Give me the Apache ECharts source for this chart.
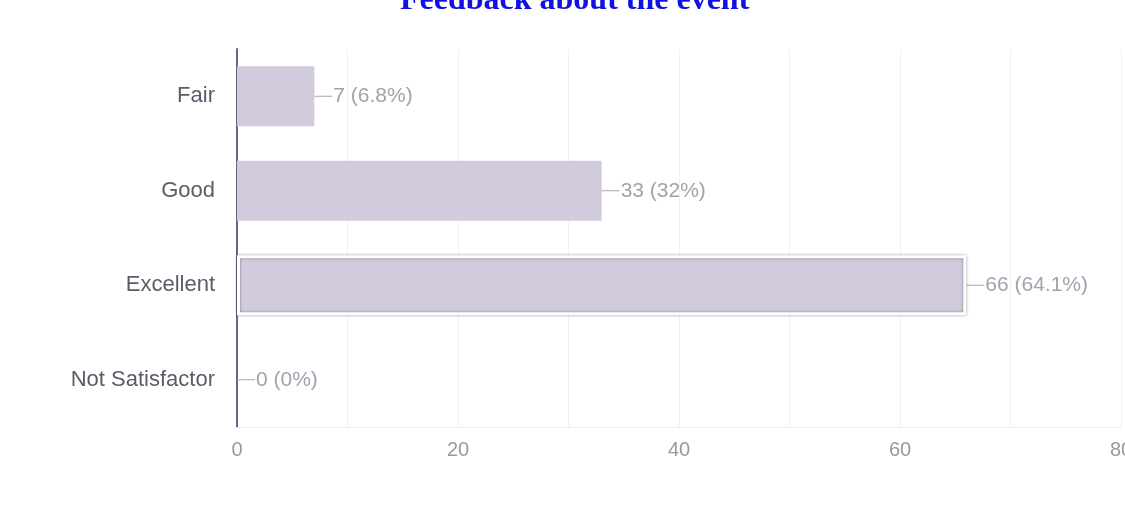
<!DOCTYPE html>
<html>
<head>
<meta charset="utf-8">
<script src="https://cdn.jsdelivr.net/npm/echarts@6/dist/echarts.min.js"></script>
<style>
  html, body { margin: 0; padding: 0; background: #fff; }
  #chart { width: 1125px; height: 510px; }
</style>
</head>
<body>
<div id="chart"></div>
<script>
// data
let categories = ['Fair', 'Good', 'Excellent', 'Not Satisfactor']
let counts = [7, 33, 66, 0]
let percents = ['6.8%', '32%', '64.1%', '0%']
let xTicks = [0, 20, 40, 60, 80]

let barColor = '#d1cbdd'
let labelColor = '#a4a1ae'

let chart = echarts.init(document.getElementById('chart'))

let option = {
  animation: false,
  title: {
    text: 'Feedback about the event',
    left: 395,
    top: -20,
    textStyle: {
      fontFamily: 'Liberation Serif',
      fontWeight: 'bold',
      fontSize: 32,
      color: '#1212e0'
    }
  },
  grid: {
    left: 237,
    right: 4,
    top: 49,
    bottom: 83,
    outerBoundsMode: 'none'
  },
  xAxis: {
    type: 'value',
    min: 0,
    max: 80,
    interval: 10,
    axisLine: { show: true, lineStyle: { color: '#eeeeee', width: 1 } },
    axisTick: { show: false },
    splitLine: { show: true, lineStyle: { color: '#f1f0f3', width: 1 } },
    axisLabel: {
      color: '#9a98a3',
      fontSize: 20,
      fontFamily: 'Liberation Sans',
      margin: 13,
      formatter: v => (xTicks.indexOf(v) >= 0 ? String(v) : '')
    }
  },
  yAxis: {
    type: 'category',
    data: categories,
    inverse: true,
    axisLine: { show: true, lineStyle: { color: '#6b6485', width: 2 } },
    axisTick: { show: false },
    splitLine: { show: false },
    axisLabel: {
      color: '#5e5b69',
      fontSize: 22,
      fontFamily: 'Liberation Sans',
      margin: 22
    }
  },
  series: [
    {
      type: 'bar',
      barWidth: 60,
      data: counts.map((v, i) => {
        let item = { value: v }
        if (categories[i] === 'Excellent') {
          item.itemStyle = {
            color: barColor,
            borderColor: '#ffffff',
            borderWidth: 3,
            shadowColor: 'rgba(0,0,0,0.4)',
            shadowBlur: 3
          }
        }
        return item
      }),
      itemStyle: { color: barColor },
      label: {
        show: true,
        position: 'right',
        distance: 0,
        formatter: p => '{l|}{v|' + p.value + ' (' + percents[p.dataIndex] + ')}',
        rich: {
          l: { width: 18, height: 1, backgroundColor: '#a8a4b3' },
          v: { color: labelColor, fontSize: 21, fontFamily: 'Liberation Sans', padding: [0, 0, 0, 1] }
        }
      }
    }
  ]
}

chart.setOption(option)
</script>
</body>
</html>
